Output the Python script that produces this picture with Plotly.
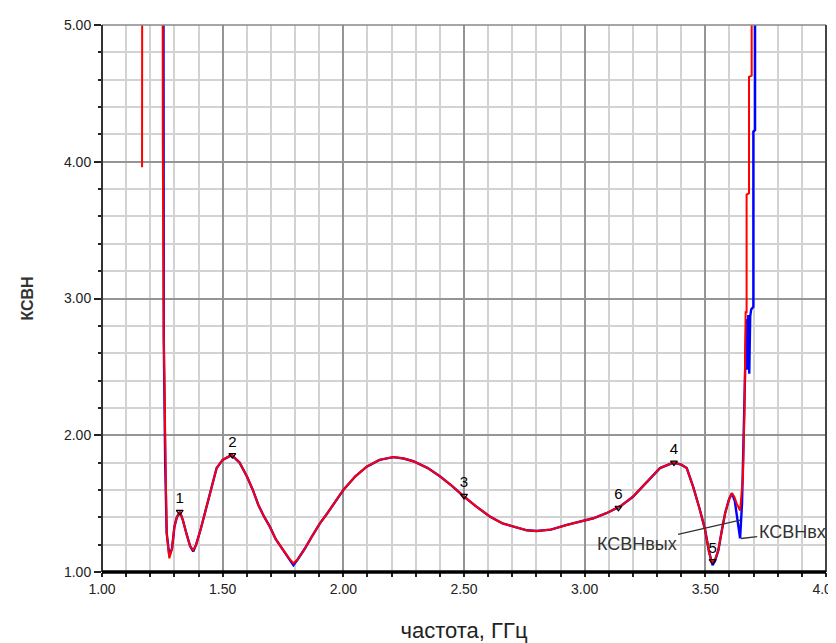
import plotly.graph_objects as go

# ---- data ----
freq_out = [1.166, 1.168, 1.249, 1.252, 1.256, 1.262, 1.268, 1.279, 1.290, 1.300, 1.310, 1.323,
            1.335, 1.350, 1.365, 1.378, 1.390, 1.410, 1.434, 1.455, 1.475, 1.500, 1.537, 1.570,
            1.600, 1.625, 1.648, 1.670, 1.696, 1.720, 1.750, 1.775, 1.793, 1.810, 1.840, 1.870,
            1.903, 1.930, 1.960, 2.000, 2.050, 2.097, 2.150, 2.207, 2.250, 2.290, 2.350, 2.400,
            2.450, 2.497, 2.550, 2.608, 2.660, 2.718, 2.760, 2.800, 2.860, 2.926, 2.980, 3.036,
            3.090, 3.147, 3.200, 3.257, 3.312, 3.368, 3.400, 3.423, 3.450, 3.475, 3.499, 3.515,
            3.527, 3.540, 3.554, 3.568, 3.582, 3.598, 3.610, 3.620, 3.630, 3.644, 3.650, 3.656,
            3.662, 3.667, 3.671, 3.671, 3.681, 3.681, 3.692, 3.692]
vswr_out = [3.96, 9.0, 9.0, 4.10, 2.70, 1.78, 1.285, 1.10, 1.17, 1.33, 1.40, 1.44,
            1.38, 1.28, 1.19, 1.16, 1.20, 1.32, 1.48, 1.63, 1.76, 1.82, 1.855, 1.80,
            1.70, 1.60, 1.49, 1.41, 1.33, 1.24, 1.16, 1.10, 1.064, 1.09, 1.17, 1.26,
            1.356, 1.42, 1.50, 1.60, 1.70, 1.77, 1.82, 1.84, 1.83, 1.81, 1.76, 1.70,
            1.63, 1.556, 1.48, 1.405, 1.355, 1.324, 1.305, 1.30, 1.31, 1.344, 1.37, 1.393,
            1.43, 1.48, 1.55, 1.655, 1.76, 1.80, 1.785, 1.76, 1.62, 1.47, 1.31, 1.15,
            1.064, 1.09, 1.16, 1.30, 1.43, 1.53, 1.576, 1.55, 1.50, 1.45, 1.55, 1.70,
            2.16, 2.90, 2.90, 3.76, 3.77, 4.62, 4.63, 9.0]

freq_in = [1.253, 1.253, 1.256, 1.262, 1.268, 1.279, 1.290, 1.300, 1.310, 1.323,
           1.335, 1.350, 1.365, 1.378, 1.390, 1.410, 1.434, 1.455, 1.475, 1.500, 1.537, 1.570,
           1.600, 1.625, 1.648, 1.670, 1.696, 1.720, 1.750, 1.775, 1.793, 1.810, 1.840, 1.870,
           1.903, 1.930, 1.960, 2.000, 2.050, 2.097, 2.150, 2.207, 2.250, 2.290, 2.350, 2.400,
           2.450, 2.497, 2.550, 2.608, 2.660, 2.718, 2.760, 2.800, 2.860, 2.926, 2.980, 3.036,
           3.090, 3.147, 3.200, 3.257, 3.312, 3.368, 3.400, 3.423, 3.450, 3.475, 3.499, 3.515,
           3.530, 3.540, 3.554, 3.568, 3.582, 3.598, 3.610, 3.622, 3.632, 3.644, 3.652, 3.658,
           3.664, 3.670, 3.674, 3.678, 3.682, 3.686, 3.690, 3.699, 3.699, 3.706, 3.706]
vswr_in = [9.0, 4.14, 2.70, 1.78, 1.285, 1.12, 1.17, 1.33, 1.40, 1.44,
           1.38, 1.28, 1.19, 1.15, 1.20, 1.32, 1.48, 1.63, 1.76, 1.82, 1.855, 1.80,
           1.70, 1.60, 1.49, 1.41, 1.33, 1.24, 1.16, 1.10, 1.05, 1.09, 1.17, 1.26,
           1.356, 1.42, 1.50, 1.60, 1.70, 1.77, 1.82, 1.84, 1.83, 1.81, 1.76, 1.70,
           1.63, 1.556, 1.48, 1.405, 1.355, 1.324, 1.305, 1.30, 1.31, 1.344, 1.37, 1.393,
           1.43, 1.48, 1.55, 1.655, 1.76, 1.80, 1.785, 1.76, 1.62, 1.47, 1.31, 1.15,
           1.05, 1.08, 1.16, 1.30, 1.43, 1.53, 1.576, 1.52, 1.40, 1.246, 1.50, 1.90,
           2.30, 2.85, 2.48, 2.88, 2.45, 2.87, 2.92, 2.94, 4.22, 4.23, 9.0]

marker_labels = ["1", "2", "3", "4", "5", "6"]
marker_freq = [1.322, 1.540, 2.500, 3.370, 3.530, 3.140]
marker_vswr = [1.44, 1.855, 1.556, 1.80, 1.08, 1.47]

x_ticks = [1.0, 1.5, 2.0, 2.5, 3.0, 3.5, 4.0]
y_ticks = [1.0, 2.0, 3.0, 4.0, 5.0]

fig = go.Figure()

fig.add_trace(go.Scatter(x=freq_in, y=vswr_in, mode="lines",
                         line=dict(color="#0000ff", width=2.4), name="КСВНвх",
                         showlegend=False))
fig.add_trace(go.Scatter(x=freq_out, y=vswr_out, mode="lines",
                         line=dict(color="#ff0000", width=2), name="КСВНвых",
                         showlegend=False))
fig.add_trace(go.Scatter(x=marker_freq, y=marker_vswr, mode="markers+text",
                         text=marker_labels, textposition="top center",
                         textfont=dict(family="Arial, Liberation Sans", size=15, color="#000"),
                         marker=dict(symbol="triangle-down-open", size=6,
                                     color="#000", line=dict(width=1.2, color="#000")),
                         showlegend=False, cliponaxis=False))

grid_minor = "#d2d2d2"
grid_major = "#959595"
tickfont = dict(family="Arial, Liberation Sans", size=14, color="#222")

fig.update_xaxes(range=[1, 4], tickvals=x_ticks, tickformat=".2f",
                 ticklabeloverflow="allow",
                 showgrid=True, gridcolor=grid_major, gridwidth=1.5,
                 ticks="outside", ticklen=4, tickwidth=1.5, tickcolor="#222",
                 minor=dict(dtick=0.1, tick0=1.0, showgrid=True, gridcolor=grid_minor,
                            gridwidth=2, ticks="outside", ticklen=4, tickcolor="#222"),
                 tickfont=tickfont, showline=False, zeroline=False,
                 title=dict(text="частота, ГГц",
                            font=dict(family="Arial, Liberation Sans", size=22, color="#222"),
                            standoff=26))
fig.update_yaxes(range=[1, 5], tickvals=y_ticks, tickformat=".2f",
                 ticklabeloverflow="allow",
                 showgrid=True, gridcolor=grid_major, gridwidth=1.5,
                 ticks="outside", ticklen=7, tickwidth=1.5, tickcolor="#222",
                 minor=dict(dtick=0.2, tick0=1.0, showgrid=True, gridcolor=grid_minor,
                            gridwidth=2, ticks="outside", ticklen=3, tickcolor="#222"),
                 tickfont=tickfont, showline=False, zeroline=False,
                 title=dict(text="<b>КСВН</b>",
                            font=dict(family="Arial, Liberation Sans", size=16, color="#333"),
                            standoff=26))

# frame
fig.add_shape(type="line", xref="paper", yref="paper", x0=0, x1=1, y0=1, y1=1,
              line=dict(color="#888", width=1.5))
fig.add_shape(type="line", xref="paper", yref="paper", x0=1, x1=1, y0=0, y1=1,
              line=dict(color="#444", width=2))
fig.add_shape(type="line", xref="paper", yref="paper", x0=0, x1=0, y0=0, y1=1,
              line=dict(color="#333", width=2))
fig.add_shape(type="line", xref="paper", yref="paper", x0=0, x1=1, y0=0, y1=0,
              line=dict(color="#000", width=3.5))

ann_font = dict(family="Arial, Liberation Sans", size=18, color="#333")
fig.add_annotation(x=3.644, y=1.38, ax=3.215, ay=1.205, axref="x", ayref="y",
                   text="КСВНвых", showarrow=True, arrowhead=0, arrowwidth=1.3,
                   arrowcolor="#333", font=ann_font)
fig.add_annotation(x=3.648, y=1.245, ax=3.86, ay=1.29, axref="x", ayref="y",
                   text="КСВНвх", showarrow=True, arrowhead=0, arrowwidth=1.3,
                   arrowcolor="#333", font=ann_font)

fig.update_layout(width=836, height=643, plot_bgcolor="white", paper_bgcolor="white",
                  margin=dict(l=94, r=18, t=17, b=79, autoexpand=False), showlegend=False)

fig.write_html("out.html")
